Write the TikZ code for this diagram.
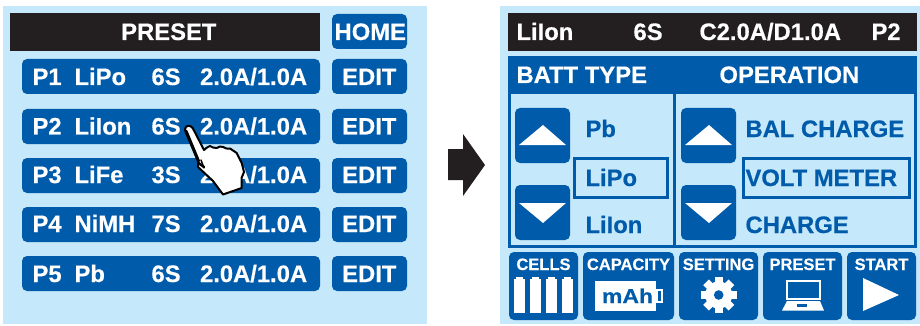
\documentclass[tikz,border=0pt]{standalone}
\usepackage{fontspec}
\setmainfont{Liberation Sans}[BoldFeatures={FakeBold=0.4}]
\definecolor{pblue}{HTML}{005BAA}
\definecolor{plight}{HTML}{C5E8FA}
\definecolor{pblack}{HTML}{231F20}
\tikzset{
  big/.style={anchor=base west,inner sep=0pt,xshift=-0.7pt,text=white,font=\fontsize{23.8}{25}\selectfont\bfseries},
  bigblue/.style={big,text=pblue},
  small/.style={anchor=base,inner sep=0pt,text=white,font=\fontsize{16.5}{17}\selectfont\bfseries},
  btn/.style={fill=pblue,rounded corners=5pt},
  panel/.style={fill=plight},
  bar/.style={fill=pblack},
  wtri/.style={fill=white},
  sel/.style={draw=pblue,line width=3pt}
}
\begin{document}
\begin{tikzpicture}[x=1pt,y=-1pt]
\useasboundingbox (0,0) rectangle (920,326);
\fill[white] (0,0) rectangle (920,326);
% left panel
\fill[panel] (3,6) rectangle (427,324);
\fill[bar] (10,13) rectangle (320,51);
\node[big,anchor=base] (ptitle) at (169.5,40) {PRESET};
\fill[btn] (332,14) rectangle (407,49);
\node[big,anchor=base] (home) at (371,40) {HOME};
\foreach \t/\b/\p/\n/\s/\k in {59/85/P1/LiPo/6S/a,109/134.5/P2/LiIon/6S/b,158/183/P3/LiFe/3S/c,207/232/P4/NiMH/7S/d,256/282/P5/Pb/6S/e}{
  \fill[btn] (22,\t) rectangle (320,\t+35);
  \fill[btn] (332,\t) rectangle (407,\t+35);
  \node[big] (p\k) at (33,\b) {\p};
  \node[big] (n\k) at (75,\b) {\n};
  \node[big] (s\k) at (152,\b) {\s};
  \node[big] (c\k) at (200.5,\b) {2.0A/1.0A};
  \node[big,anchor=base] (e\k) at (370,\b) {EDIT};
}
% hand
\draw[fill=white,draw=black,line width=2pt,line join=round]
  (185,130) .. controls (185,125) and (190,124.5) .. (192.7,128)
  -- (204,150) -- (207,147.5) -- (210,146) -- (213,147.5) -- (216.7,148) -- (220,146.5) -- (223,147) -- (226.5,148.5) -- (230,148.5)
  -- (236.7,153) -- (241.7,163) -- (244,172) -- (241.5,178) -- (241.7,188) -- (223,194.5)
  -- (213,181) -- (198,167) -- (198.3,161.7) -- cycle;
\draw[black,line width=3pt,line cap=round] (186,131) -- (198.5,161);
\draw[black,line width=2.5pt,line cap=round] (198.5,163) -- (204,167);
\draw[black,line width=1.5pt,line cap=round] (201,160) -- (204,168);
% arrow
\fill[pblack] (448,149) -- (463,149) -- (463,134) -- (485,165) -- (463,196) -- (463,180) -- (448,180) -- cycle;
% right panel
\fill[panel] (500,6) rectangle (920,324);
\fill[bar] (508,13) rectangle (917,51);
\node[big] (tl1) at (517,40) {LiIon};
\node[big] (tl2) at (634,40) {6S};
\node[big] (tl3) at (700,40) {C2.0A/D1.0A};
\node[big] (tl4) at (872,40) {P2};
\fill[pblue] (508,56) rectangle (917,94);
\node[big] (hd1) at (517,83) {BATT TYPE};
\node[big] (hd2) at (720,83) {OPERATION};
\draw[pblue,line width=3pt] (509.5,94) -- (509.5,246) -- (915.5,246) -- (915.5,94);
\draw[pblue,line width=3pt] (674,94) -- (674,246);
\foreach \x in {515,681}{
  \fill[btn] (\x,108) rectangle (\x+55,163);
  \fill[wtri] (\x+4,145) -- (\x+28,125) -- (\x+51,145) -- cycle;
  \fill[btn] (\x,185) rectangle (\x+55,240);
  \fill[wtri] (\x+4,203) -- (\x+28,223) -- (\x+51,203) -- cycle;
}
\draw[sel] (574.5,158.5) rectangle (667.5,197);
\draw[sel] (743.5,158.5) rectangle (909,197);
\node[bigblue] (l1) at (586,137) {Pb};
\node[bigblue] (l2) at (586,186) {LiPo};
\node[bigblue] (l3) at (586,233) {LiIon};
\node[bigblue] (o1) at (746,137) {BAL CHARGE};
\node[bigblue] (o2) at (746,186) {VOLT METER};
\node[bigblue] (o3) at (746,233) {CHARGE};
% bottom buttons
\foreach \a/\b in {509/578,583/674,679/758,763/842,847/916}{\fill[btn] (\a,252) rectangle (\b,320);}
\node[small] (b1) at (543.5,270) {CELLS};
\node[small] (b2) at (628.5,270) {CAPACITY};
\node[small] (b3) at (718.5,270) {SETTING};
\node[small] (b4) at (802.5,270) {PRESET};
\node[small] (b5) at (881.5,270) {START};
% cells
\foreach \x in {514,530,546,562}{
  \fill[white] (\x,279) rectangle (\x+11,313);
  \fill[white] (\x+2,277) rectangle (\x+9,280);
}
% mAh
\fill[white] (595,281) rectangle (656,311);
\draw[white,line width=2.5pt] (657,290) rectangle (662,302);
\node[anchor=base,inner sep=0pt,text=pblue,xscale=1.15,font=\fontsize{20}{21}\selectfont\bfseries] (mah) at (627.5,303) {mAh};
% gear
\fill[white] (718.7,295) circle (13.5);
\foreach \a in {0,45,...,315}{
  \fill[white,rotate around={\a:(718.7,295)}] (714.7,277) rectangle (722.7,285);
}
\fill[pblue] (718.7,295) circle (4.8);
% laptop
\draw[white,line width=2.5pt] (787.2,281.2) rectangle (819.8,299);
\fill[white] (787,301) -- (820,301) -- (824,310.5) -- (782,310.5) -- cycle;
\fill[pblue] (797,304) rectangle (807,307);
% play
\fill[white] (863,278) -- (899,295) -- (863,311) -- cycle;
\end{tikzpicture}
\end{document}
